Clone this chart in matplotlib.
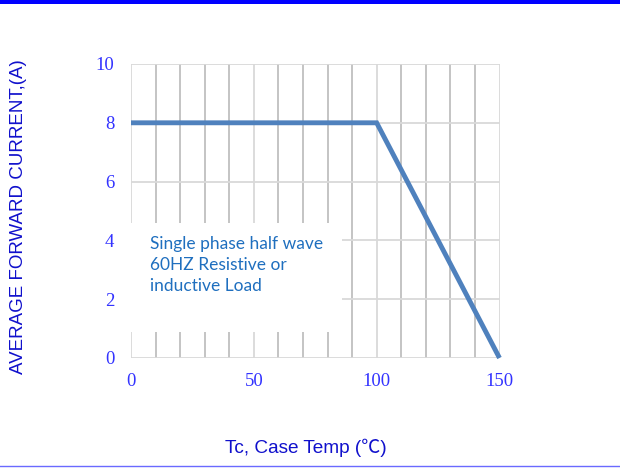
import matplotlib
matplotlib.use("Agg")
import matplotlib.pyplot as plt
from matplotlib.patches import Rectangle
from matplotlib.lines import Line2D

# Data
case_temp = [0, 100, 150]
forward_current = [8, 8, 0]
x_ticks = [0, 50, 100, 150]
y_ticks = [0, 2, 4, 6, 8, 10]
x_label = "Tc, Case Temp (\u2103)"
y_label = "AVERAGE FORWARD CURRENT,(A)"
note = "Single phase half wave\n60HZ Resistive or\ninductive Load"

fig = plt.figure(figsize=(6.2, 4.68), dpi=100)
ax = fig.add_axes([131/620, 1-358/468, 368.5/620, 294/468])

ax.set_xlim(0, 150)
ax.set_ylim(0, 10)

# grid
for xv in range(0, 151, 10):
    col = "#d9d9d9" if xv % 50 == 0 else "#bfbfbf"
    ax.axvline(xv, color=col, lw=1.3, zorder=1)
for yv in y_ticks:
    ax.axhline(yv, color="#d9d9d9", lw=1.3, zorder=1)

for s in ax.spines.values():
    s.set_visible(False)

ax.set_xticks(x_ticks)
ax.set_yticks(y_ticks)
ax.tick_params(length=0, colors="#3333ff", labelsize=13.5)
ax.tick_params(axis="y", pad=12)
ax.tick_params(axis="x", pad=11)
for lab in ax.get_xticklabels() + ax.get_yticklabels():
    lab.set_fontfamily("Liberation Serif")
    lab.set_color("#3333ff")

# white note box
ax.add_patch(Rectangle((0.0, 0.088), 0.573, 0.372, transform=ax.transAxes,
                       facecolor="white", edgecolor="none", zorder=2))
ax.text(0.052, 0.415, note, transform=ax.transAxes, ha="left", va="top",
        fontsize=12.5, family="Lato", color="#1f6fbf", linespacing=1.4, zorder=3)

ax.plot(case_temp, forward_current, color="#4f81bd", lw=3.5,
        solid_capstyle="butt", solid_joinstyle="miter", zorder=4, clip_on=False)

fig.text(306/620, 1-448/468, x_label, ha="center", va="center", fontsize=13.7,
         color="#1010cc", family=["Liberation Sans", "Noto Sans CJK SC", "DejaVu Sans"])
fig.text(19/620, 1-217/468, y_label, ha="center", va="center", rotation=90,
         fontsize=13.5, color="#1010cc", family=["Liberation Sans", "DejaVu Sans"])

# top bar and bottom line
fig.patches.append(Rectangle((0, 1-3.5/468), 1, 3.5/468, transform=fig.transFigure,
                             facecolor="#0000ff", edgecolor="none"))
fig.lines.append(Line2D([0, 1], [1-466/468, 1-466/468], transform=fig.transFigure,
                        color="#6a6aff", lw=1))

fig.savefig("out.png", dpi=100)
